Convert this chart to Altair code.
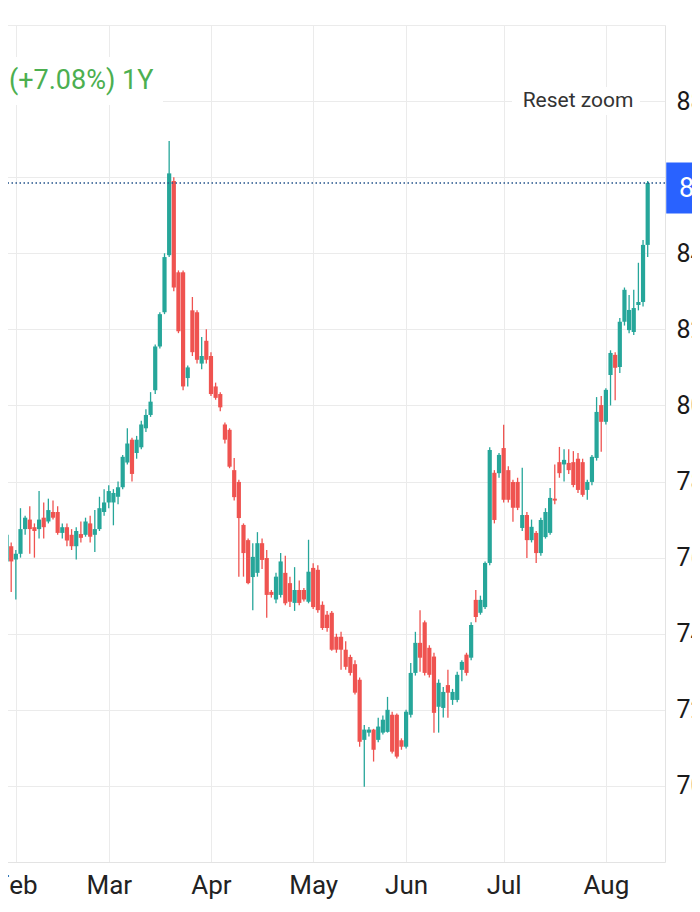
import altair as alt
import pandas as pd

# ---- data (daily candles, trading-day index) ----
OPEN = [75.9, 76.3, 75.95, 76.1, 76.75, 77.0, 76.8, 76.75, 77.05, 76.95,
        77.2, 77.2, 76.65, 76.8, 76.6, 76.3, 76.62, 76.6, 76.9, 76.6,
        76.75, 77.2, 77.45, 77.45, 77.6, 77.85, 78.5, 79.1, 78.75, 78.9,
        79.4, 79.75, 80.4, 81.55, 82.45, 83.95, 85.9, 83.5, 83.5, 80.72,
        82.5, 82.45, 81.1, 81.7, 81.3, 80.5, 80.3, 79.5, 79.36, 78.3,
        77.99, 76.86, 76.46, 75.49, 75.6, 76.38, 75.99, 75.1, 74.9, 75.02,
        75.6, 75.33, 74.81, 75.15, 75.15, 74.84, 75.73, 75.68, 74.76, 74.5,
        74.55, 73.92, 73.92, 73.58, 73.39, 73.2, 72.79, 71.21, 71.4, 71.48,
        71.21, 71.4, 71.42, 71.87, 71.87, 71.2, 71.03, 71.87, 72.97, 73.76,
        74.3, 73.63, 73.4, 72.08, 72.05, 72.65, 72.26, 72.26, 73.05, 73.45,
        73.37, 74.89, 74.55, 74.7, 75.86, 78.23, 78.22, 78.88, 78.3, 77.99,
        77.99, 76.78, 77.12, 76.46, 76.65, 76.12, 76.54, 76.65, 77.55, 78.51,
        78.45, 78.49, 78.51, 78.6, 78.51, 77.78, 77.99, 78.62, 80.01, 79.57,
        80.8, 81.33, 81.01, 82.2, 81.98, 81.93, 82.64, 82.72, 84.22]
HIGH = [76.7, 76.4, 76.2, 77.3, 77.1, 77.35, 76.9, 77.75, 77.45, 77.55,
        77.5, 77.35, 76.9, 76.9, 76.75, 76.8, 76.95, 77.05, 77.1, 77.25,
        77.6, 77.8, 77.9, 77.8, 78.0, 78.7, 79.4, 79.15, 79.2, 79.6,
        79.9, 80.35, 81.6, 82.45, 84.0, 86.95, 86.0, 83.55, 83.55, 81.05,
        82.85, 82.5, 81.8, 82.0, 81.4, 80.6, 80.35, 79.55, 79.4, 78.62,
        78.05, 76.9, 76.5, 76.38, 76.67, 76.5, 76.2, 75.15, 75.6, 76.12,
        76.05, 75.5, 75.75, 75.4, 75.2, 76.47, 75.85, 75.8, 74.85, 74.6,
        74.6, 74.0, 74.05, 73.8, 73.45, 73.3, 72.85, 71.6, 71.55, 71.5,
        71.79, 71.85, 72.34, 71.95, 71.9, 71.25, 72.0, 73.23, 74.05, 74.62,
        74.35, 73.7, 73.5, 72.8, 72.6, 73.05, 72.55, 73.0, 73.3, 73.5,
        74.3, 75.15, 75.0, 75.9, 78.9, 78.3, 78.75, 79.49, 78.4, 78.05,
        78.1, 78.36, 77.2, 77.0, 76.7, 77.05, 77.3, 77.83, 78.45, 78.91,
        78.85, 78.85, 78.8, 78.75, 78.6, 78.05, 78.7, 80.22, 80.25, 80.45,
        81.45, 81.4, 82.3, 83.1, 82.9, 83.04, 83.75, 84.35, 85.9]
LOW = [75.8, 75.1, 74.9, 76.0, 76.6, 76.1, 76.0, 76.5, 76.5, 76.9,
       77.0, 76.6, 76.5, 76.3, 76.2, 75.95, 76.4, 76.55, 76.4, 76.15,
       76.7, 77.1, 77.3, 76.85, 77.4, 77.8, 78.45, 78.0, 78.6, 78.85,
       79.3, 79.7, 80.3, 81.5, 82.4, 83.9, 83.0, 81.9, 80.4, 80.5,
       81.3, 81.1, 80.95, 81.1, 80.25, 80.15, 79.85, 79.0, 78.35, 77.5,
       75.5, 75.5, 75.3, 74.62, 75.5, 75.7, 74.42, 74.95, 74.8, 74.95,
       74.75, 74.7, 74.6, 74.75, 74.85, 74.8, 74.65, 74.55, 74.1, 74.05,
       73.55, 73.5, 73.05, 73.05, 72.9, 72.4, 71.03, 69.98, 71.3, 70.64,
       71.15, 71.35, 71.4, 70.85, 70.72, 70.95, 70.98, 71.8, 72.9, 73.0,
       72.9, 72.85, 71.4, 71.4, 71.8, 71.79, 72.13, 72.2, 72.75, 72.9,
       73.3, 74.3, 74.5, 74.65, 75.8, 76.9, 78.1, 77.45, 77.45, 76.94,
       77.25, 76.7, 75.99, 76.4, 75.86, 76.05, 76.5, 76.6, 77.4, 78.1,
       78.0, 78.2, 77.85, 77.7, 77.6, 77.52, 77.9, 78.55, 78.78, 79.5,
       80.0, 80.14, 80.85, 82.1, 81.9, 81.85, 82.5, 82.6, 83.9]
CLOSE = [76.6, 75.9, 76.1, 76.75, 77.05, 76.75, 76.7, 77.0, 76.8, 77.25,
         77.05, 76.65, 76.8, 76.45, 76.3, 76.7, 76.52, 76.95, 76.55, 76.75,
         77.3, 77.45, 77.75, 77.7, 77.85, 78.65, 79.0, 78.2, 79.1, 79.5,
         79.75, 80.1, 81.55, 82.4, 83.9, 86.1, 83.1, 81.95, 80.5, 81.0,
         81.4, 81.2, 81.3, 81.2, 80.3, 80.2, 79.95, 79.1, 78.39, 77.59,
         77.04, 76.12, 75.33, 76.02, 76.38, 75.94, 75.02, 75.02, 75.5, 75.9,
         74.8, 74.84, 75.15, 74.81, 74.9, 75.63, 74.7, 74.62, 74.15, 74.15,
         73.58, 73.58, 73.58, 73.13, 72.97, 72.45, 71.16, 71.48, 71.48, 70.95,
         71.56, 71.74, 72.0, 70.9, 70.77, 71.03, 71.95, 72.97, 73.76, 73.37,
         72.97, 72.92, 71.92, 72.71, 72.47, 72.45, 72.47, 72.92, 73.26, 72.97,
         74.23, 74.44, 74.89, 75.86, 78.83, 76.99, 78.7, 77.52, 77.52, 77.31,
         77.31, 77.12, 76.46, 76.81, 76.12, 76.99, 77.2, 77.57, 77.5, 78.22,
         78.57, 78.3, 77.91, 77.78, 77.65, 77.99, 78.65, 79.83, 79.57, 80.41,
         81.38, 80.99, 82.2, 83.04, 82.51, 82.56, 82.72, 84.22, 85.85]

MONTH_POS = [2, 22, 44, 66, 86, 107, 129]
MONTH_LABELS = ["Feb", "Mar", "Apr", "May", "Jun", "Jul", "Aug"]
Y_TICKS = [70, 72, 74, 76, 78, 80, 82, 84, 86, 88, 90]
CHANGE_TEXT = "(+7.08%) 1Y"
RESET_TEXT = "Reset zoom"

UP = "#26a69a"
DOWN = "#ef5350"
FONT = "Roboto"

df = pd.DataFrame({"i": list(range(len(OPEN))), "open": OPEN, "high": HIGH,
                   "low": LOW, "close": CLOSE})
df["dir"] = ["up" if c >= o else "down" for o, c in zip(OPEN, CLOSE)]
last = df.tail(1)

W, H = 665, 837
xscale = alt.Scale(domain=[-0.333, 140.65], nice=False, zero=False)
yscale = alt.Scale(domain=[68, 90], nice=False, zero=False)

lbl_x = ("[" + ",".join("'%s'" % m for m in MONTH_LABELS) + "][indexof(["
         + ",".join(str(p) for p in MONTH_POS) + "], datum.value)]")

x_axis = alt.Axis(values=MONTH_POS, labelExpr=lbl_x, title=None, grid=True,
                  gridColor="#ebebeb", gridWidth=1, ticks=False, domain=True,
                  domainColor="#e3e3e3", labelFontSize=26, labelFont=FONT,
                  labelColor="#222222", labelPadding=10, labelFlush=False,
                  labelOverlap=False, labelBound=False, zindex=0)
y_axis = alt.Axis(orient="right", values=Y_TICKS,
                  labelExpr="datum.value >= 89 || datum.value == 86 ? '' : datum.label",
                  title=None, grid=True, gridColor="#ebebeb", gridWidth=1,
                  ticks=False, domain=True, domainColor="#e3e3e3",
                  labelFontSize=25, labelFont=FONT, labelColor="#1a1a1a",
                  labelPadding=11, labelOverlap=False, labelBound=False, zindex=0)

color = alt.Color("dir:N", scale=alt.Scale(domain=["up", "down"], range=[UP, DOWN]),
                  legend=None)

base = alt.Chart(df).encode(x=alt.X("i:Q", scale=xscale, axis=x_axis), color=color)
wicks = base.mark_rule(strokeWidth=1.3).encode(
    y=alt.Y("low:Q", scale=yscale, axis=y_axis), y2="high:Q")
bodies = base.mark_bar(size=4.2).encode(
    y=alt.Y("open:Q", scale=yscale, axis=y_axis), y2="close:Q")

last_line = alt.Chart(last).mark_rule(
    color="#23538a", strokeWidth=1.5, strokeDash=[1.5, 2.5]).encode(
    y=alt.Y("close:Q", scale=yscale, axis=y_axis))

box_shape = "M-0.5,-1L2,-1L2,1L-0.5,1Z"
price_box = alt.Chart(last).mark_point(
    shape=box_shape, size=51 * 51, filled=True, opacity=1, color="#2962ff",
    strokeWidth=0, yOffset=5).encode(
    x=alt.value(679), y=alt.Y("close:Q", scale=yscale, axis=y_axis))
price_text = alt.Chart(last).mark_text(
    align="left", baseline="middle", fontSize=27, font=FONT, color="white",
    yOffset=6).encode(
    x=alt.value(679), y=alt.Y("close:Q", scale=yscale, axis=y_axis),
    text=alt.Text("close:Q", format=".2f"))

one = pd.DataFrame({"k": [0]})
change_bg = alt.Chart(one).mark_rect(color="white").encode(
    x=alt.value(0), x2=alt.value(163), y=alt.value(32), y2=alt.value(80))
change_txt = alt.Chart(one).mark_text(
    text=CHANGE_TEXT, align="left", baseline="middle", fontSize=27, font=FONT,
    color="#4caf50").encode(x=alt.value(9), y=alt.value(56))
reset_bg = alt.Chart(one).mark_rect(color="white").encode(
    x=alt.value(512), x2=alt.value(640), y=alt.value(62), y2=alt.value(90))
reset_txt = alt.Chart(one).mark_text(
    text=RESET_TEXT, align="center", baseline="middle", fontSize=21, font=FONT,
    color="#333333").encode(x=alt.value(578), y=alt.value(76))

chart = alt.layer(
    wicks, bodies, last_line, change_bg, change_txt, reset_bg, reset_txt,
    price_box, price_text
).properties(
    width=W, height=H,
    autosize=alt.AutoSizeParams(type="none"),
    padding={"left": -8, "top": 17, "right": 27, "bottom": 38},
).configure_view(stroke="transparent")

chart.save("out.html", embed_options={"renderer": "svg", "actions": False})
